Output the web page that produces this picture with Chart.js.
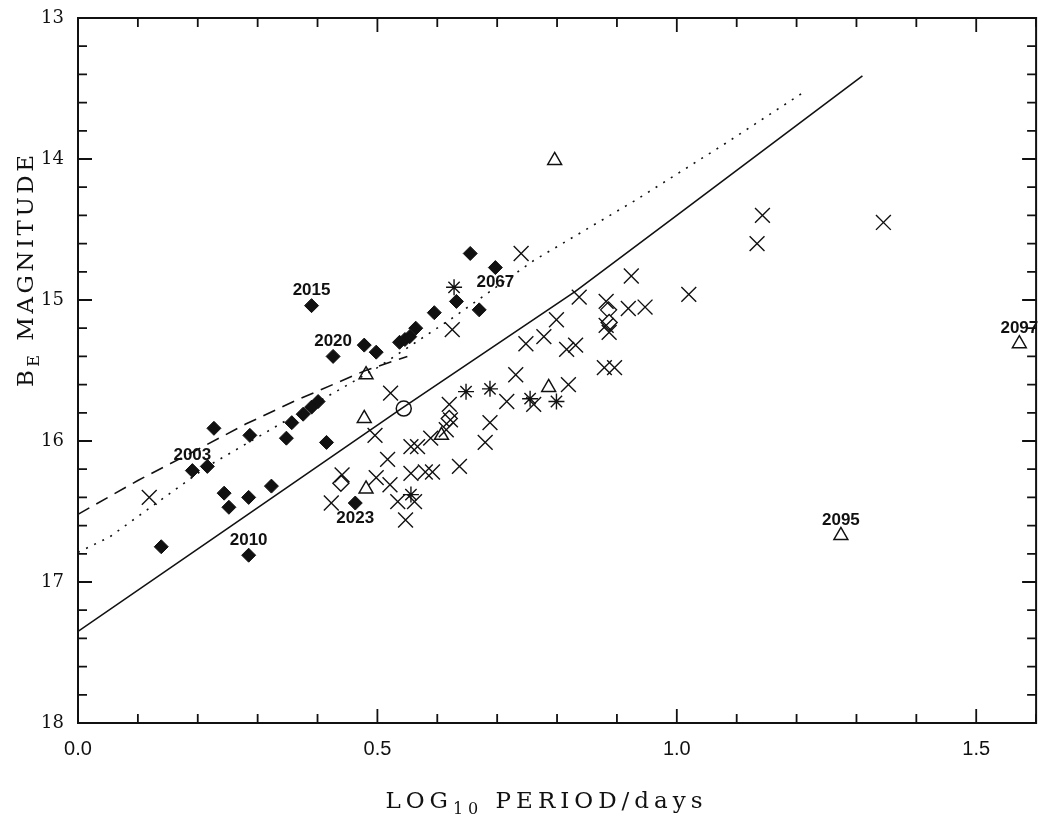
<!DOCTYPE html>
<html>
<head>
<meta charset="utf-8">
<script src="https://cdn.jsdelivr.net/npm/chart.js@4.4.1/dist/chart.umd.min.js"></script>
<style>
  html, body { margin: 0; background: #fff; overflow: hidden; }
  canvas { display: block; }
</style>
</head>
<body>
<canvas id="plot" width="1048" height="817"></canvas>
<script>
// filled diamonds
const diamondX = [0.139,0.191,0.216,0.227,0.244,0.252,0.285,0.285,0.287,0.323,0.348,0.357,0.376,0.390,0.401,0.390,0.415,0.426,0.463,0.478,0.498,0.537,0.546,0.554,0.564,0.595,0.632,0.655,0.670,0.697];
const diamondY = [16.75,16.21,16.18,15.91,16.37,16.47,16.40,16.81,15.96,16.32,15.98,15.87,15.81,15.76,15.72,15.04,16.01,15.40,16.44,15.32,15.37,15.30,15.28,15.26,15.20,15.09,15.01,14.67,15.07,14.77];

// crosses
const crossX = [0.119,0.522,0.496,0.517,0.441,0.423,0.498,0.521,0.534,0.547,0.556,0.567,0.589,0.622,0.620,0.615,0.556,0.580,0.592,0.637,0.562,0.688,0.680,0.716,0.740,0.924,0.837,0.882,0.919,0.947,1.020,0.799,0.778,0.748,0.816,0.831,0.882,0.887,0.879,0.896,0.731,0.819,0.625,1.143,1.134,1.345,0.761];
const crossY = [16.40,15.66,15.96,16.13,16.24,16.44,16.26,16.31,16.43,16.56,16.04,16.04,15.98,15.85,15.74,15.92,16.23,16.22,16.22,16.18,16.43,15.87,16.01,15.72,14.67,14.83,14.98,15.01,15.06,15.05,14.96,15.14,15.26,15.31,15.35,15.32,15.18,15.23,15.48,15.48,15.53,15.60,15.21,14.40,14.60,14.45,15.74];

// asterisks
const starX = [0.628,0.648,0.688,0.755,0.799,0.556];
const starY = [14.91,15.65,15.63,15.70,15.72,16.38];

// open triangles
const triX = [0.796,0.481,0.478,0.481,0.786,0.607,1.274,1.572];
const triY = [14.01,15.53,15.84,16.34,15.62,15.96,16.67,15.31];

// open diamonds and the single open circle
const openDiaX = [0.439,0.886,0.887,0.620];
const openDiaY = [16.30,15.07,15.16,15.84];
const circleX = [0.544];
const circleY = [15.77];

// model curves
const solidX = [0,0.25,0.54,0.83,1.0,1.31];
const solidY = [17.35,16.62,15.77,14.94,14.40,13.41];
const dottedX = [0,0.053,0.216,0.285,0.406,0.5,0.628,0.761,0.932,1.081,1.214];
const dottedY = [16.79,16.68,16.18,16.01,15.71,15.48,15.12,14.72,14.29,13.89,13.52];
const dashedX = [0,0.1,0.2,0.28,0.36,0.48,0.55];
const dashedY = [16.52,16.28,16.06,15.88,15.72,15.50,15.40];

// star names
const labelNames = ['2003','2010','2015','2020','2023','2067','2095','2097'];
const labelX = [0.191,0.285,0.390,0.426,0.463,0.697,1.274,1.572];
const labelY = [16.21,16.81,15.04,15.40,16.44,14.77,16.67,15.31];
const labelBelow = [false,false,false,false,true,true,false,false];

const xMin = 0, xMax = 1.6, yMin = 13, yMax = 18;

function pts(xs, ys) {
  return xs.map((x, i) => ({x: x, y: ys[i]}));
}

function lineSet(xs, ys, dash) {
  return {
    data: pts(xs, ys), showLine: true, pointRadius: 0,
    borderColor: '#111', borderWidth: 1.6, borderDash: dash, fill: false
  };
}

function markSet(xs, ys, style, r, filled, w) {
  return {
    data: pts(xs, ys), showLine: false, pointStyle: style, pointRadius: r,
    borderColor: '#111', backgroundColor: filled ? '#111' : '#fff',
    borderWidth: w, pointHoverRadius: r
  };
}

// letter-spaced text with subscript runs, like the old plotter lettering
const BIG = '23px "DejaVu Serif", serif';
const SMALL = '16px "DejaVu Serif", serif';
function spacedWidth(ctx, parts, gap) {
  let w = 0;
  parts.forEach(p => {
    ctx.font = p[1] ? SMALL : BIG;
    for (const ch of p[0]) w += ctx.measureText(ch).width + gap;
  });
  return w - gap;
}
function spaced(ctx, parts, x0, y0, gap) {
  let x = x0;
  ctx.textAlign = 'left';
  ctx.textBaseline = 'alphabetic';
  parts.forEach(p => {
    ctx.font = p[1] ? SMALL : BIG;
    for (const ch of p[0]) {
      ctx.fillText(ch, x, y0 + (p[1] ? 6 : 0));
      x += ctx.measureText(ch).width + gap;
    }
  });
}

const frame = {
  id: 'frame',
  afterDraw(chart) {
    const ctx = chart.ctx;
    const a = chart.chartArea;
    const xs = chart.scales.x, ys = chart.scales.y;
    ctx.save();
    ctx.strokeStyle = '#111';
    ctx.lineWidth = 2;
    ctx.strokeRect(a.left, a.top, a.right - a.left, a.bottom - a.top);
    ctx.lineWidth = 1.8;
    ctx.beginPath();
    for (let i = 0; i <= 16; i++) {
      const v = i / 10;
      const px = xs.getPixelForValue(v);
      const len = (i % 5 === 0) ? 14 : 9;
      ctx.moveTo(px, a.bottom); ctx.lineTo(px, a.bottom - len);
      ctx.moveTo(px, a.top); ctx.lineTo(px, a.top + len);
    }
    for (let i = 0; i <= 25; i++) {
      const v = 13 + i / 5;
      const py = ys.getPixelForValue(v);
      const len = (i % 5 === 0) ? 14 : 9;
      ctx.moveTo(a.left, py); ctx.lineTo(a.left + len, py);
      ctx.moveTo(a.right, py); ctx.lineTo(a.right - len, py);
    }
    ctx.stroke();

    // star names
    ctx.fillStyle = '#111';
    ctx.font = 'bold 17px "Liberation Sans", Arial, sans-serif';
    ctx.textAlign = 'center';
    ctx.textBaseline = 'middle';
    labelNames.forEach((t, i) => {
      const px = xs.getPixelForValue(labelX[i]);
      const py = ys.getPixelForValue(labelY[i]) + (labelBelow[i] ? 15 : -15);
      ctx.fillText(t, px, py);
    });

    // axis titles
    const xt = [['LOG', false], ['10', true], [' PERIOD/days', false]];
    spaced(ctx, xt, 544 - spacedWidth(ctx, xt, 5) / 2, 808, 5);

    const yt = [['B', false], ['E', true], [' MAGNITUDE', false]];
    const yw = spacedWidth(ctx, yt, 3.5);
    ctx.translate(33, 271);
    ctx.rotate(-Math.PI / 2);
    spaced(ctx, yt, -yw / 2, 0, 3.5);
    ctx.restore();
  }
};

const chart = new Chart(document.getElementById('plot'), {
  type: 'scatter',
  data: {
    datasets: [
      lineSet(solidX, solidY, []),
      lineSet(dottedX, dottedY, [2, 7]),
      lineSet(dashedX, dashedY, [13, 8]),
      markSet(crossX, crossY, 'crossRot', 10.5, false, 1.4),
      markSet(starX, starY, 'star', 8, false, 1.4),
      markSet(openDiaX, openDiaY, 'rectRot', 8, false, 1.4),
      markSet(triX, triY, 'triangle', 8, false, 1.5),
      markSet(circleX, circleY, 'circle', 7.5, false, 1.5),
      markSet(diamondX, diamondY, 'rectRot', 7, true, 1)
    ]
  },
  options: {
    responsive: false,
    animation: false,
    layout: { padding: { left: 0, right: 7, top: 18, bottom: 0 } },
    plugins: { legend: { display: false }, tooltip: { enabled: false } },
    scales: {
      x: {
        type: 'linear', min: xMin, max: xMax,
        grid: { display: false, drawTicks: false },
        border: { display: false },
        ticks: {
          stepSize: 0.1, autoSkip: false, maxRotation: 0, padding: 14,
          color: '#111',
          font: { family: '"Liberation Sans", Arial, sans-serif', size: 20 },
          callback: v => (Math.abs(v * 2 - Math.round(v * 2)) < 1e-6) ? v.toFixed(1) : ''
        },
        afterFit: s => { s.height = 94; s.paddingLeft = 0; s.paddingRight = 0; }
      },
      y: {
        type: 'linear', min: yMin, max: yMax, reverse: true,
        grid: { display: false, drawTicks: false },
        border: { display: false },
        ticks: {
          stepSize: 0.2, autoSkip: false, padding: 14,
          color: '#111',
          font: { family: '"DejaVu Serif", serif', size: 18 },
          callback: v => (Math.abs(v - Math.round(v)) < 1e-6) ? String(Math.round(v)) : ''
        },
        afterFit: s => { s.width = 78; s.paddingTop = 0; s.paddingBottom = 0; }
      }
    }
  },
  plugins: [frame]
});
</script>
</body>
</html>
